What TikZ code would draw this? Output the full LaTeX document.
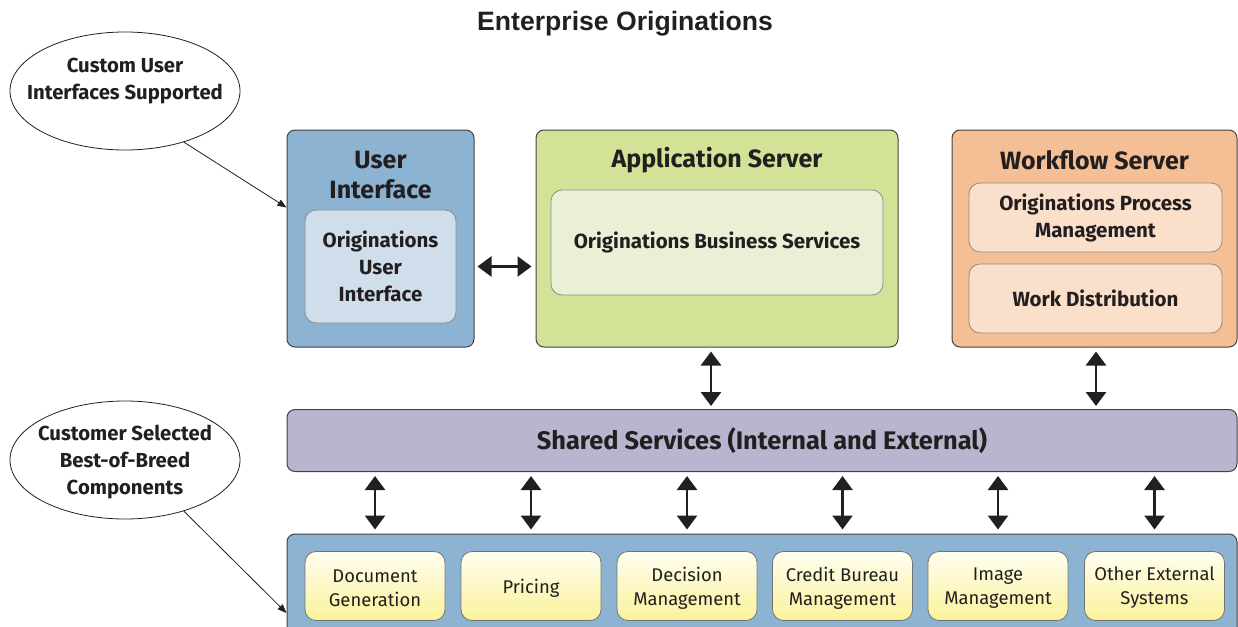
\documentclass[tikz,border=0pt]{standalone}
\usepackage{fontspec}
\setmainfont{Fira Sans}
\newfontfamily\titlefont{Liberation Sans}
\usetikzlibrary{shapes.geometric,arrows.meta}
\definecolor{ink}{HTML}{231F20}
\definecolor{uiblue}{HTML}{8DB3D2}
\definecolor{uiin}{HTML}{D0DEEB}
\definecolor{appgreen}{HTML}{D2E397}
\definecolor{appin}{HTML}{E9F0D6}
\definecolor{wforange}{HTML}{F4BF94}
\definecolor{wfin}{HTML}{FADFCB}
\definecolor{shared}{HTML}{B8B6CE}
\definecolor{ytop}{HTML}{FFFEF0}
\definecolor{ybot}{HTML}{FBF29A}
\tikzset{
  outerbox/.style={draw=ink!85, line width=1pt, rounded corners=8pt, inner sep=0pt},
  innerbox/.style={draw=black!45, line width=0.8pt, rounded corners=11pt, inner sep=0pt, text=ink, align=center},
  comp/.style={draw=black!55, line width=0.8pt, rounded corners=11pt, inner sep=0pt,
    minimum width=140pt, minimum height=69pt, top color=ytop, bottom color=ybot,
    text=ink, align=center, font=\fontsize{18.4}{24}\selectfont},
  hdr/.style={text=ink, align=center, font=\bfseries\fontsize{25}{30}\selectfont},
  inl/.style={font=\bfseries\fontsize{20.5}{27}\selectfont},
  callout/.style={draw=ink, line width=0.8pt, ellipse, inner sep=0pt, minimum width=230pt,
    minimum height=118pt},
  callouttext/.style={text=ink, align=center, font=\bfseries\fontsize{20.3}{27}\selectfont},
  dbl/.style={{Triangle[width=20pt,length=14pt]}-{Triangle[width=20pt,length=14pt]}, line width=2.7pt, draw=ink},
  thin/.style={-{Triangle[width=7pt,length=9pt]}, line width=0.8pt, draw=ink}
}
\begin{document}
\begin{tikzpicture}[x=1pt,y=-1pt]
\useasboundingbox (0,0) rectangle (1238,626);
\clip (0,0) rectangle (1238,626);
\fill[white] (0,0) rectangle (1238,626);

% title
\node (title) at (625,24) {\titlefont\bfseries\fontsize{26.6}{30}\selectfont\color{ink}Enterprise Originations};

% top boxes
\node[outerbox, fill=uiblue, minimum width=187pt, minimum height=217pt] (ui) at (380.5,238.5) {};
\node[hdr] (uih) at (380.5,175) {User\\Interface};
\node[innerbox, inl, fill=uiin, minimum width=151pt, minimum height=113pt] (uiin) at (380.5,266.5)
  {Originations\\User\\Interface};

\node[outerbox, fill=appgreen, minimum width=362pt, minimum height=217pt] (app) at (717,238.5) {};
\node[hdr] (apph) at (717,160) {Application Server};
\node[innerbox, inl, fill=appin, minimum width=332pt, minimum height=105pt] (appin) at (717,242.5)
  {Originations Business Services};

\node[outerbox, fill=wforange, minimum width=285pt, minimum height=217pt] (wf) at (1094.5,238.5) {};
\node[hdr] (wfh) at (1094.5,160) {Workflow Server};
\node[innerbox, inl, fill=wfin, minimum width=253pt, minimum height=69pt] (wf1) at (1095.5,217.5)
  {Originations Process\\Management};
\node[innerbox, inl, fill=wfin, minimum width=253pt, minimum height=69pt] (wf2) at (1095.5,298.5)
  {Work Distribution};

% shared services
\node[outerbox, fill=shared, minimum width=950pt, minimum height=62pt, text=ink,
  font=\bfseries\fontsize{25.4}{30}\selectfont] (sh) at (762,440.5) {Shared Services (Internal and External)};

% bottom components
\node[outerbox, fill=uiblue, minimum width=950pt, minimum height=120pt] (bot) at (762,594) {};
\foreach \n/\x/\t in {c1/375/{Document\\Generation}, c2/531/{Pricing}, c3/687/{Decision\\Management},
  c4/842.5/{Credit Bureau\\Management}, c5/998/{Image\\Management}, c6/1154.5/{Other External\\Systems}}{
  \node[comp] (\n) at (\x,586) {};
  \node[text=ink, align=center, font=\fontsize{18.4}{24}\selectfont] (\n t) at (\x,588) {\t};
}

% callouts
\node[callout] (e1) at (125,91) {};
\node[callouttext] (e1t) at (125,81) {Custom User\\Interfaces Supported};
\node[callout] (e2) at (125,460) {};
\node[callouttext] (e2t) at (125,462) {Customer Selected\\Best-of-Breed\\Components};

% connectors
\draw[dbl, shorten <=3pt, shorten >=4pt] (ui.east |- uiin.east) -- (app.west |- uiin.east);
\draw[dbl, shorten <=4pt, shorten >=3pt] ([xshift=-6pt]app.south) -- ([xshift=-6pt]app.south |- sh.north);
\draw[dbl, shorten <=4pt, shorten >=3pt] ([xshift=1.5pt]wf.south) -- ([xshift=1.5pt]wf.south |- sh.north);
\foreach \c in {c1,c2,c3,c4,c5,c6}{
  \draw[dbl, shorten <=4pt, shorten >=4pt] (sh.south -| \c.north) -- (\c.north |- bot.north);
}
\draw[thin] (e1.-41) -- ([yshift=31pt]ui.west);
\draw[thin] (e2.-41) -- ([yshift=-19pt]bot.west);
\end{tikzpicture}
\end{document}
